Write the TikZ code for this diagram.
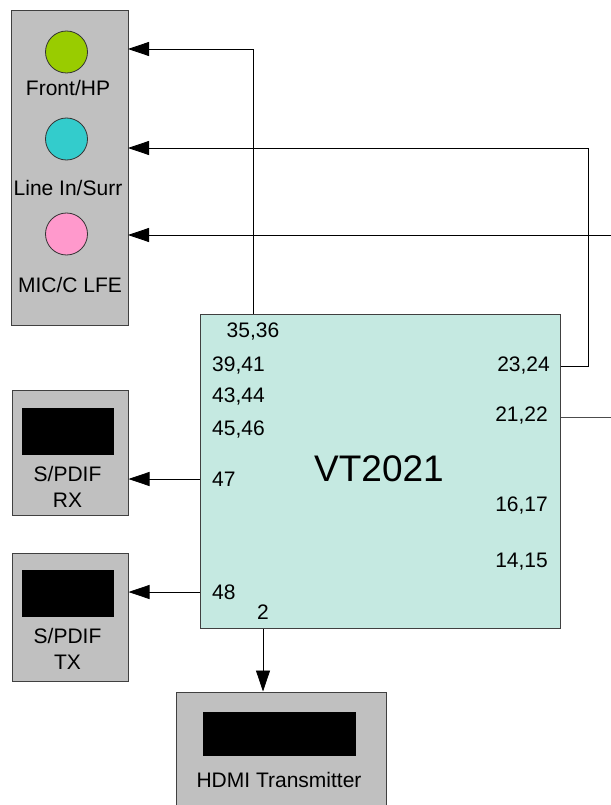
\documentclass[tikz,border=0pt]{standalone}
\usepackage{fontspec}
\setmainfont{Liberation Sans}
\usetikzlibrary{arrows.meta,positioning}
\definecolor{boxgray}{RGB}{192,192,192}
\definecolor{chipfill}{RGB}{197,233,225}
\definecolor{hpgreen}{RGB}{153,204,0}
\definecolor{surrcyan}{RGB}{51,204,204}
\definecolor{micpink}{RGB}{255,153,204}
\tikzstyle{box}=[draw=black!75, line width=1pt, fill=boxgray, inner sep=0pt]
\tikzstyle{plug}=[fill=black, inner sep=0pt]
\tikzstyle{jack}=[circle, draw=black!80, line width=0.8pt, minimum size=42pt,
                inner sep=0pt]
\tikzstyle{lbl}=[inner sep=0pt, font=\fontsize{21}{23}\selectfont]
\tikzstyle{sig}=[draw=black, line width=0.8pt,
                -{Triangle[length=21pt,width=14pt]}]
\tikzstyle{wire}=[draw=black!70, line width=0.8pt]

\begin{document}
\begin{tikzpicture}[x=1pt, y=-1pt]
  \useasboundingbox (0,0) rectangle (610,805);
  % jack panel
  \node[box, minimum width=117pt, minimum height=314pt] (jacks) at (69.5,168) {};
  \node[jack, fill=hpgreen] (hp) at (66.5,52) {};
  \node[jack, fill=surrcyan] (surr) at (66.5,139) {};
  \node[jack, fill=micpink] (mic) at (66.5,234) {};
  \node[lbl] (lhp) at (68,88) {Front/HP};
  \node[lbl] (lsurr) at (68,188) {Line In/Surr};
  \node[lbl] (lmic) at (70,285) {MIC/C LFE};
  % s/pdif and hdmi
  \node[box, minimum width=116pt, minimum height=125pt] (rx) at (70,452.5) {};
  \node[plug, minimum width=92pt, minimum height=47pt] (rxp) at (68,431.5) {};
  \node[lbl, align=center] (lrx) at (67.5,487) {S/PDIF\\[3pt]RX};
  \node[box, minimum width=116pt, minimum height=128pt] (tx) at (70,617) {};
  \node[plug, minimum width=92pt, minimum height=47pt] (txp) at (68,593.5) {};
  \node[lbl, align=center] (ltx) at (67.5,649) {S/PDIF\\[3pt]TX};
  \node[box, minimum width=210pt, minimum height=138pt] (hdmi) at (281,761) {};
  \node[plug, minimum width=153pt, minimum height=44pt] (hdmip) at (279.5,734) {};
  \node[lbl] (lhdmi) at (279,780) {HDMI Transmitter};
  % codec
  \node[box, fill=chipfill, minimum width=359.5pt, minimum height=314pt] (chip) at (380.25,471) {};
  \node[lbl, font=\fontsize{37}{40}\selectfont] (vt) at (379,469) {VT2021};
  \node[lbl] (p3536) at (253,332) {35,36};
  \node[lbl, anchor=west] (p3941) at (212,366) {39,41};
  \node[lbl, anchor=west] (p4344) at (212,397) {43,44};
  \node[lbl, anchor=west] (p4546) at (212,430) {45,46};
  \node[lbl, anchor=west] (p47) at (212,479) {47};
  \node[lbl, anchor=west] (p48) at (212,592) {48};
  \node[lbl] (p2) at (263,612) {2};
  \node[lbl, anchor=east] (p2324) at (550,366) {23,24};
  \node[lbl, anchor=east] (p2122) at (548,416) {21,22};
  \node[lbl, anchor=east] (p1617) at (548,506) {16,17};
  \node[lbl, anchor=east] (p1415) at (548,562) {14,15};
  \coordinate (aHP) at (128,49);
  \coordinate (aSurr) at (128,148);
  \coordinate (aMic) at (128,235);
  \coordinate (offMic) at (620,235);
  \coordinate (off2122) at (620,417);

  \path[sig] (p3536 |- chip.north) |- (aHP);
  \path[sig] (chip.east |- p2324) -| (588,148) -- (aSurr);
  \path[sig] (offMic) -- (aMic);
  \path[wire] (chip.east |- off2122) -- (off2122);
  \path[sig] (chip.west |- p47) -- (rx.east |- p47);
  \path[sig] (chip.west |- p48) -- (tx.east |- p48);
  \path[sig] (p2 |- chip.south) -- (p2 |- hdmi.north);
\end{tikzpicture}
\end{document}
